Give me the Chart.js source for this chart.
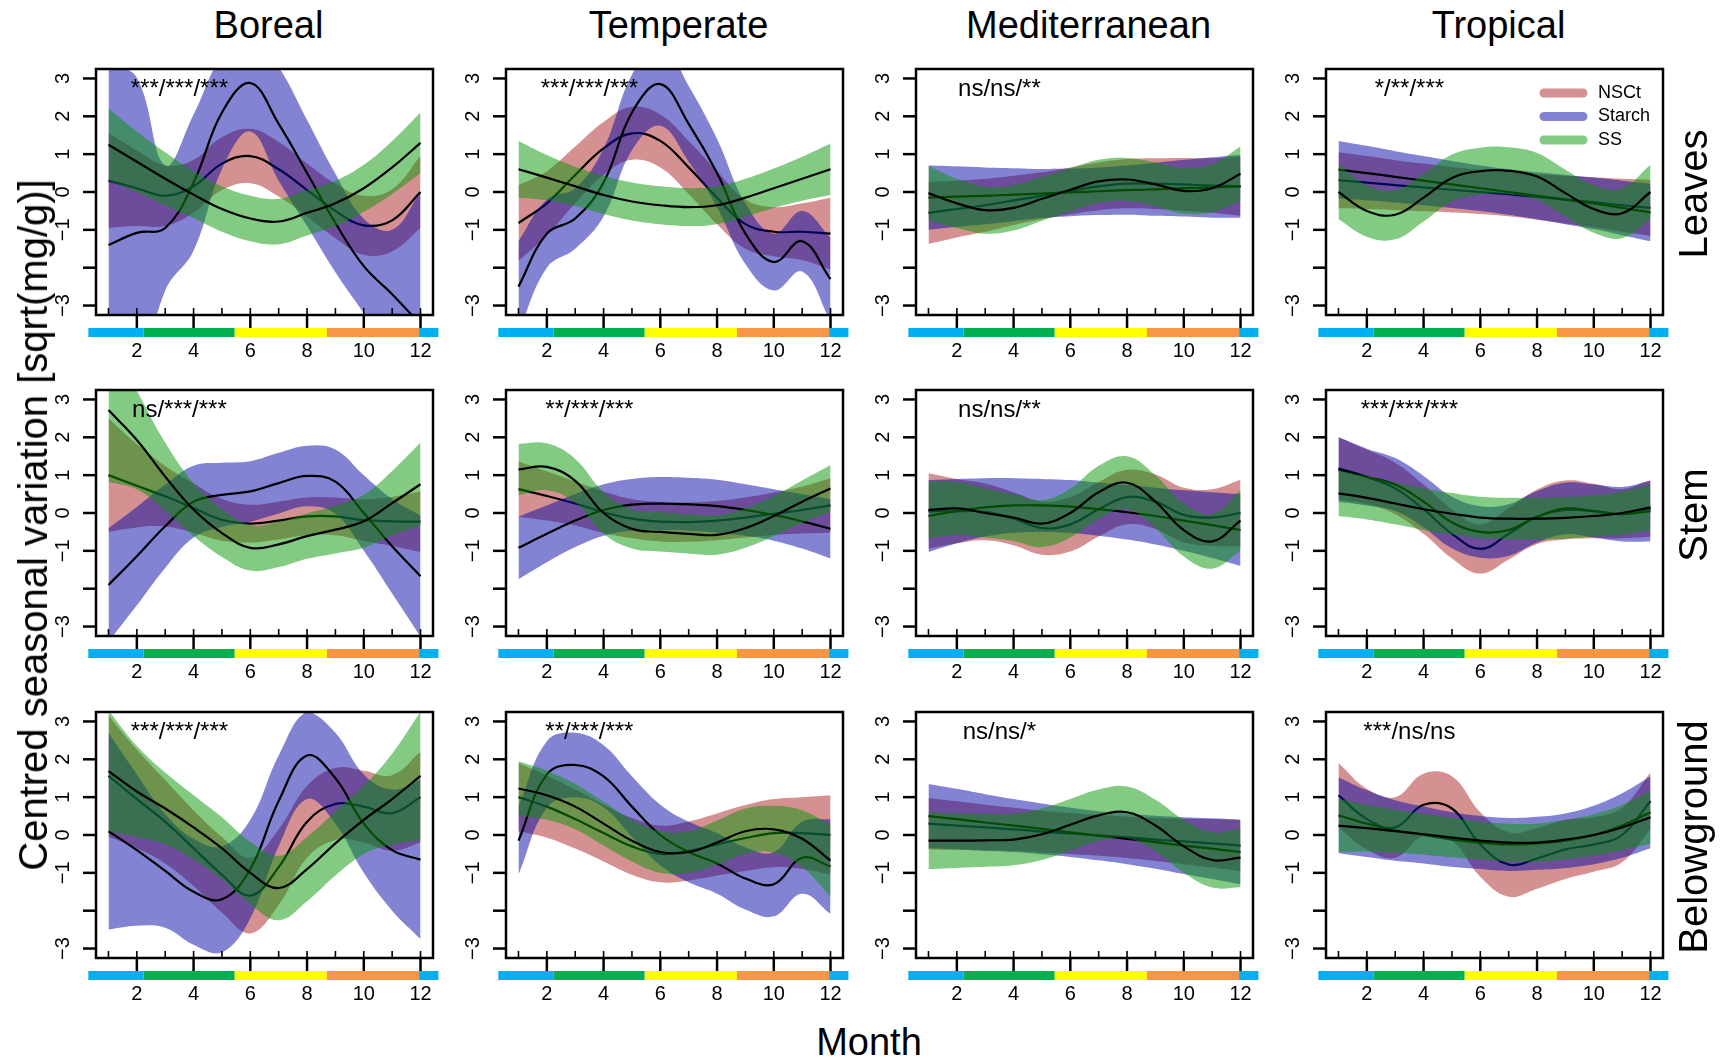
<!DOCTYPE html>
<html><head><meta charset="utf-8">
<script src="https://cdn.jsdelivr.net/npm/chart.js@4.4.1/dist/chart.umd.min.js"></script>
<style>
body{margin:0;background:#fff;width:1724px;height:1064px;position:relative;overflow:hidden;font-family:"Liberation Sans",Arial,Helvetica,sans-serif;}
canvas{position:absolute;}
.t{position:absolute;color:#000;white-space:nowrap;font-size:38px;line-height:1;transform:translate(-50%,-50%);}
.r{transform:translate(-50%,-50%) rotate(-90deg);}
.big{font-size:40px;}
</style></head><body>
<script>
// ---------------- data ----------------
const months = [1,2,3,4,5,6,7,8,9,10,11,12];
const biomes = ['Boreal','Temperate','Mediterranean','Tropical'];
const organs = ['Leaves','Stem','Belowground'];
const seriesNames = ['NSCt','Starch','SS'];
const yTickValues = [-3,-2,-1,0,1,2,3];
const yTickLabels = ['\u22123','','\u22121','0','1','2','3'];
const xTickValues = [2,4,6,8,10,12];
const xTickLabels = ['2','4','6','8','10','12'];
const seasonBreaks = [0.29, 2.24, 5.45, 8.70, 11.95, 12.63];
const seasonColors = ['#00B0F0','#00B050','#FFFF00','#F79646','#00B0F0'];
const sigLeaves = ['***/***/***','***/***/***','ns/ns/**','*/**/***'];
const sigStem = ['ns/***/***','**/***/***','ns/ns/**','***/***/***'];
const sigBelow = ['***/***/***','**/***/***','ns/ns/*','***/ns/ns'];

// mean curves and half-width of the confidence band (sqrt(mg/g))
const boreal_leaves_nsct_mean   = [0.3, 0.1, -0.1, 0.15, 0.75, 0.95, 0.6, 0.05, -0.5, -0.88, -0.75, 0.0];
const boreal_leaves_nsct_ci     = [1.25, 1.0, 0.8, 0.7, 0.7, 0.72, 0.72, 0.7, 0.72, 0.78, 0.82, 0.95];
const boreal_leaves_starch_mean = [-1.4, -1.08, -0.95, 0.25, 2.1, 2.88, 1.8, 0.5, -0.82, -1.96, -2.7, -3.5];
const boreal_leaves_starch_ci   = [4.8, 4.1, 1.65, 1.8, 1.5, 1.28, 1.5, 1.4, 1.3, 1.25, 1.7, 3.5];
const boreal_leaves_ss_mean     = [1.25, 0.8, 0.35, -0.07, -0.45, -0.7, -0.78, -0.55, -0.3, 0.1, 0.65, 1.3];
const boreal_leaves_ss_ci       = [0.95, 0.8, 0.7, 0.62, 0.6, 0.6, 0.6, 0.6, 0.6, 0.62, 0.7, 0.8];

const temperate_leaves_nsct_mean   = [-0.82, -0.3, 0.45, 1.15, 1.55, 1.35, 0.65, -0.15, -0.85, -1.05, -1.05, -1.1];
const temperate_leaves_nsct_ci     = [1.0, 0.85, 0.75, 0.7, 0.7, 0.7, 0.7, 0.7, 0.65, 0.65, 0.75, 0.95];
const temperate_leaves_starch_mean = [-2.5, -1.1, -0.7, 0.25, 2.1, 2.85, 1.8, 0.5, -1.1, -1.85, -1.3, -2.3];
const temperate_leaves_starch_ci   = [1.2, 0.9, 0.8, 0.9, 1.0, 1.1, 1.0, 0.9, 0.8, 0.75, 0.8, 1.1];
const temperate_leaves_ss_mean     = [0.6, 0.38, 0.15, -0.08, -0.25, -0.35, -0.4, -0.35, -0.15, 0.1, 0.35, 0.6];
const temperate_leaves_ss_ci       = [0.75, 0.6, 0.52, 0.5, 0.5, 0.5, 0.5, 0.5, 0.5, 0.52, 0.58, 0.68];

const mediterranean_leaves_nsct_mean   = [-0.55, -0.45, -0.35, -0.22, -0.1, 0.03, 0.15, 0.22, 0.22, 0.2, 0.17, 0.15];
const mediterranean_leaves_nsct_ci     = [0.82, 0.75, 0.7, 0.65, 0.62, 0.62, 0.63, 0.65, 0.67, 0.7, 0.72, 0.78];
const mediterranean_leaves_starch_mean = [-0.15, -0.12, -0.1, -0.07, -0.04, -0.01, 0.02, 0.05, 0.07, 0.1, 0.12, 0.15];
const mediterranean_leaves_starch_ci   = [0.85, 0.8, 0.75, 0.7, 0.65, 0.63, 0.63, 0.65, 0.7, 0.75, 0.8, 0.83];
const mediterranean_leaves_ss_mean     = [-0.03, -0.3, -0.48, -0.42, -0.18, 0.06, 0.28, 0.33, 0.2, 0.03, 0.1, 0.48];
const mediterranean_leaves_ss_ci       = [0.72, 0.65, 0.62, 0.6, 0.58, 0.57, 0.57, 0.57, 0.58, 0.6, 0.63, 0.72];

const tropical_leaves_nsct_mean   = [0.31, 0.25, 0.18, 0.12, 0.06, 0.0, -0.06, -0.13, -0.2, -0.27, -0.35, -0.42];
const tropical_leaves_nsct_ci     = [0.74, 0.7, 0.66, 0.63, 0.6, 0.58, 0.58, 0.6, 0.63, 0.66, 0.7, 0.74];
const tropical_leaves_starch_mean = [0.59, 0.5, 0.4, 0.3, 0.2, 0.1, 0.0, -0.1, -0.2, -0.3, -0.42, -0.54];
const tropical_leaves_starch_ci   = [0.76, 0.72, 0.68, 0.65, 0.62, 0.6, 0.6, 0.62, 0.65, 0.68, 0.72, 0.76];
const tropical_leaves_ss_mean     = [0.0, -0.5, -0.6, -0.15, 0.37, 0.55, 0.56, 0.41, -0.03, -0.45, -0.56, 0.0];
const tropical_leaves_ss_ci       = [0.72, 0.68, 0.65, 0.63, 0.62, 0.62, 0.62, 0.62, 0.62, 0.63, 0.66, 0.72];

const boreal_stem_nsct_mean   = [1.0, 0.72, 0.44, 0.13, -0.18, -0.28, -0.2, -0.09, -0.09, -0.19, -0.22, -0.23];
const boreal_stem_nsct_ci     = [1.5, 1.1, 0.8, 0.65, 0.55, 0.5, 0.5, 0.5, 0.5, 0.55, 0.65, 0.8];
const boreal_stem_starch_mean = [-1.9, -1.14, -0.35, 0.3, 0.48, 0.57, 0.79, 0.98, 0.83, 0.0, -0.88, -1.67];
const boreal_stem_starch_ci   = [1.5, 1.3, 1.1, 0.95, 0.85, 0.8, 0.8, 0.8, 0.85, 1.0, 1.25, 1.6];
const boreal_stem_ss_mean     = [2.72, 1.93, 0.96, 0.09, -0.53, -0.92, -0.83, -0.61, -0.44, -0.22, 0.26, 0.76];
const boreal_stem_ss_ci       = [1.9, 1.3, 0.9, 0.7, 0.63, 0.6, 0.6, 0.6, 0.63, 0.7, 0.85, 1.1];

const temperate_stem_nsct_mean   = [0.63, 0.45, 0.25, 0.02, -0.15, -0.23, -0.24, -0.2, -0.12, -0.02, 0.08, 0.2];
const temperate_stem_nsct_ci     = [0.73, 0.65, 0.58, 0.55, 0.52, 0.52, 0.52, 0.52, 0.53, 0.56, 0.62, 0.72];
const temperate_stem_starch_mean = [-0.92, -0.55, -0.2, 0.08, 0.22, 0.25, 0.23, 0.18, 0.08, -0.05, -0.22, -0.42];
const temperate_stem_starch_ci   = [0.83, 0.75, 0.7, 0.68, 0.68, 0.7, 0.7, 0.7, 0.68, 0.68, 0.72, 0.78];
const temperate_stem_ss_mean     = [1.15, 1.22, 0.85, 0.0, -0.42, -0.5, -0.55, -0.58, -0.4, -0.08, 0.3, 0.65];
const temperate_stem_ss_ci       = [0.68, 0.62, 0.58, 0.55, 0.52, 0.52, 0.52, 0.52, 0.52, 0.53, 0.56, 0.62];

const mediterranean_stem_nsct_mean   = [0.05, 0.05, 0.03, -0.15, -0.4, -0.3, 0.1, 0.42, 0.3, -0.05, -0.12, 0.0];
const mediterranean_stem_nsct_ci     = [1.0, 0.85, 0.75, 0.7, 0.7, 0.72, 0.72, 0.72, 0.72, 0.72, 0.75, 0.88];
const mediterranean_stem_starch_mean = [-0.08, 0.05, 0.15, 0.2, 0.2, 0.17, 0.1, 0.02, -0.08, -0.2, -0.32, -0.45];
const mediterranean_stem_starch_ci   = [0.95, 0.85, 0.77, 0.72, 0.7, 0.7, 0.7, 0.72, 0.75, 0.8, 0.87, 0.95];
const mediterranean_stem_ss_mean     = [0.08, 0.12, 0.0, -0.12, -0.28, 0.0, 0.55, 0.8, 0.3, -0.45, -0.75, -0.2];
const mediterranean_stem_ss_ci       = [0.75, 0.7, 0.65, 0.62, 0.62, 0.65, 0.7, 0.7, 0.7, 0.7, 0.72, 0.8];

const tropical_stem_nsct_mean   = [1.18, 0.95, 0.65, 0.1, -0.55, -0.95, -0.55, -0.1, 0.08, 0.05, -0.02, 0.12];
const tropical_stem_nsct_ci     = [0.82, 0.72, 0.68, 0.65, 0.65, 0.65, 0.68, 0.72, 0.78, 0.72, 0.65, 0.75];
const tropical_stem_starch_mean = [1.15, 0.95, 0.75, 0.3, -0.25, -0.5, -0.45, -0.1, 0.12, 0.05, -0.03, 0.05];
const tropical_stem_starch_ci   = [0.85, 0.75, 0.7, 0.68, 0.68, 0.68, 0.68, 0.68, 0.68, 0.7, 0.72, 0.8];
const tropical_stem_ss_mean     = [0.52, 0.4, 0.25, 0.1, -0.02, -0.12, -0.15, -0.15, -0.13, -0.08, 0.0, 0.15];
const tropical_stem_ss_ci       = [0.6, 0.57, 0.55, 0.55, 0.55, 0.55, 0.55, 0.55, 0.55, 0.55, 0.57, 0.6];

const boreal_below_nsct_mean   = [1.56, 0.95, 0.35, -0.35, -1.05, -1.6, -0.85, 0.35, 0.82, 0.75, 0.58, 1.0];
const boreal_below_nsct_ci     = [1.6, 1.3, 1.1, 1.0, 1.0, 1.0, 1.0, 0.95, 0.95, 0.95, 1.0, 1.2];
const boreal_below_starch_mean = [0.1, -0.4, -0.95, -1.5, -1.7, -0.9, 0.9, 2.1, 1.5, 0.3, -0.4, -0.65];
const boreal_below_starch_ci   = [2.6, 2.0, 1.5, 1.4, 1.4, 1.3, 1.2, 1.15, 1.2, 1.3, 1.6, 2.1];
const boreal_below_ss_mean     = [1.69, 1.15, 0.7, 0.2, -0.35, -1.0, -1.4, -0.9, -0.22, 0.4, 0.95, 1.56];
const boreal_below_ss_ci       = [1.6, 1.2, 0.95, 0.85, 0.82, 0.82, 0.85, 0.85, 0.85, 0.9, 1.2, 1.7];

const temperate_below_nsct_mean   = [1.0, 0.75, 0.42, 0.05, -0.3, -0.5, -0.42, -0.25, -0.08, 0.05, 0.05, 0.0];
const temperate_below_nsct_ci     = [0.9, 0.82, 0.78, 0.75, 0.75, 0.75, 0.78, 0.82, 0.87, 0.9, 0.95, 1.05];
const temperate_below_starch_mean = [-0.15, 1.6, 1.85, 1.55, 0.75, 0.0, -0.45, -0.75, -1.15, -1.3, -0.6, -0.83];
const temperate_below_starch_ci   = [0.9, 0.88, 0.85, 0.82, 0.8, 0.8, 0.8, 0.8, 0.82, 0.85, 0.95, 1.25];
const temperate_below_ss_mean     = [1.23, 1.05, 0.75, 0.3, -0.15, -0.45, -0.45, -0.2, 0.1, 0.15, -0.1, -0.68];
const temperate_below_ss_ci       = [0.72, 0.65, 0.6, 0.58, 0.55, 0.55, 0.55, 0.58, 0.6, 0.62, 0.75, 0.95];

const mediterranean_below_nsct_mean   = [0.3, 0.25, 0.2, 0.15, 0.09, 0.04, -0.01, -0.06, -0.12, -0.17, -0.22, -0.28];
const mediterranean_below_nsct_ci     = [0.68, 0.64, 0.6, 0.57, 0.55, 0.54, 0.54, 0.55, 0.57, 0.6, 0.64, 0.68];
const mediterranean_below_starch_mean = [0.5, 0.42, 0.33, 0.25, 0.16, 0.07, -0.02, -0.1, -0.19, -0.28, -0.36, -0.45];
const mediterranean_below_starch_ci   = [0.85, 0.8, 0.75, 0.7, 0.67, 0.65, 0.65, 0.67, 0.7, 0.75, 0.8, 0.85];
const mediterranean_below_ss_mean     = [-0.15, -0.15, -0.14, -0.12, 0.02, 0.27, 0.52, 0.6, 0.25, -0.3, -0.66, -0.6];
const mediterranean_below_ss_ci       = [0.75, 0.72, 0.7, 0.68, 0.68, 0.68, 0.68, 0.68, 0.68, 0.7, 0.73, 0.78];

const tropical_below_nsct_mean   = [1.05, 0.42, 0.2, 0.8, 0.7, -0.25, -0.78, -0.62, -0.38, -0.25, 0.0, 0.9];
const tropical_below_nsct_ci     = [0.85, 0.8, 0.8, 0.82, 0.85, 0.85, 0.85, 0.8, 0.78, 0.72, 0.72, 0.75];
const tropical_below_starch_mean = [0.52, 0.3, 0.12, 0.0, -0.12, -0.2, -0.25, -0.22, -0.15, 0.0, 0.25, 0.6];
const tropical_below_starch_ci   = [1.0, 0.88, 0.8, 0.75, 0.72, 0.7, 0.7, 0.7, 0.72, 0.77, 0.85, 0.95];
const tropical_below_ss_mean     = [0.25, 0.18, 0.1, 0.02, -0.07, -0.15, -0.2, -0.2, -0.12, 0.0, 0.2, 0.47];
const tropical_below_ss_ci       = [0.7, 0.62, 0.57, 0.54, 0.52, 0.5, 0.5, 0.5, 0.52, 0.55, 0.6, 0.7];

// ---------------- panel table built from the arrays ----------------
const panelTable = [
  [ // Leaves
    [[boreal_leaves_nsct_mean,boreal_leaves_nsct_ci],[boreal_leaves_starch_mean,boreal_leaves_starch_ci],[boreal_leaves_ss_mean,boreal_leaves_ss_ci]],
    [[temperate_leaves_nsct_mean,temperate_leaves_nsct_ci],[temperate_leaves_starch_mean,temperate_leaves_starch_ci],[temperate_leaves_ss_mean,temperate_leaves_ss_ci]],
    [[mediterranean_leaves_nsct_mean,mediterranean_leaves_nsct_ci],[mediterranean_leaves_starch_mean,mediterranean_leaves_starch_ci],[mediterranean_leaves_ss_mean,mediterranean_leaves_ss_ci]],
    [[tropical_leaves_nsct_mean,tropical_leaves_nsct_ci],[tropical_leaves_starch_mean,tropical_leaves_starch_ci],[tropical_leaves_ss_mean,tropical_leaves_ss_ci]]
  ],
  [ // Stem
    [[boreal_stem_nsct_mean,boreal_stem_nsct_ci],[boreal_stem_starch_mean,boreal_stem_starch_ci],[boreal_stem_ss_mean,boreal_stem_ss_ci]],
    [[temperate_stem_nsct_mean,temperate_stem_nsct_ci],[temperate_stem_starch_mean,temperate_stem_starch_ci],[temperate_stem_ss_mean,temperate_stem_ss_ci]],
    [[mediterranean_stem_nsct_mean,mediterranean_stem_nsct_ci],[mediterranean_stem_starch_mean,mediterranean_stem_starch_ci],[mediterranean_stem_ss_mean,mediterranean_stem_ss_ci]],
    [[tropical_stem_nsct_mean,tropical_stem_nsct_ci],[tropical_stem_starch_mean,tropical_stem_starch_ci],[tropical_stem_ss_mean,tropical_stem_ss_ci]]
  ],
  [ // Belowground
    [[boreal_below_nsct_mean,boreal_below_nsct_ci],[boreal_below_starch_mean,boreal_below_starch_ci],[boreal_below_ss_mean,boreal_below_ss_ci]],
    [[temperate_below_nsct_mean,temperate_below_nsct_ci],[temperate_below_starch_mean,temperate_below_starch_ci],[temperate_below_ss_mean,temperate_below_ss_ci]],
    [[mediterranean_below_nsct_mean,mediterranean_below_nsct_ci],[mediterranean_below_starch_mean,mediterranean_below_starch_ci],[mediterranean_below_ss_mean,mediterranean_below_ss_ci]],
    [[tropical_below_nsct_mean,tropical_below_nsct_ci],[tropical_below_starch_mean,tropical_below_starch_ci],[tropical_below_ss_mean,tropical_below_ss_ci]]
  ]
];
const sigTable = [sigLeaves, sigStem, sigBelow];

// ---------------- styles / layout ----------------
const bandColors = ['rgba(172,36,36,0.5)','rgba(8,8,168,0.5)','rgba(8,150,8,0.5)'];
const boxLeft = [96, 506, 916, 1326];
const boxTop = [69, 390, 712];
const boxW = 337, boxH = 246;
const padL = 70, padT = 15, padR = 25, padB = 55;
const FONT = '"Liberation Sans", Arial, Helvetica, sans-serif';

const rPlot = {
  id: 'rPlot',
  afterDatasetsDraw(chart, args, opts) {
    const ctx = chart.ctx, a = chart.chartArea, x = chart.scales.x, y = chart.scales.y;
    ctx.save();
    ctx.strokeStyle = '#000'; ctx.fillStyle = '#000';
    // box
    ctx.lineWidth = 2.5;
    ctx.strokeRect(a.left, a.top, a.right - a.left, a.bottom - a.top);
    // y axis ticks + rotated labels
    ctx.font = '20px ' + FONT;
    yTickValues.forEach((v, i) => {
      const py = y.getPixelForValue(v);
      ctx.lineWidth = 2.5;
      ctx.beginPath(); ctx.moveTo(a.left - 13, py); ctx.lineTo(a.left, py); ctx.stroke();
      const lab = yTickLabels[i];
      if (lab) {
        ctx.save(); ctx.translate(a.left - 33, py); ctx.rotate(-Math.PI / 2);
        ctx.textAlign = 'center'; ctx.textBaseline = 'middle';
        ctx.fillText(lab, 0, 0); ctx.restore();
      }
    });
    // x axis: small inward ticks every month, long outward ticks at labelled months
    ctx.lineWidth = 1.6;
    months.forEach(m => {
      const px = x.getPixelForValue(m);
      ctx.beginPath(); ctx.moveTo(px, a.bottom - 7); ctx.lineTo(px, a.bottom); ctx.stroke();
    });
    ctx.lineWidth = 2.5;
    ctx.textAlign = 'center'; ctx.textBaseline = 'middle';
    xTickValues.forEach((m, i) => {
      const px = x.getPixelForValue(m);
      ctx.beginPath(); ctx.moveTo(px, a.bottom); ctx.lineTo(px, a.bottom + 13); ctx.stroke();
      ctx.fillText(xTickLabels[i], px, a.bottom + 36);
    });
    // season colour bar
    for (let s = 0; s < seasonColors.length; s++) {
      const x0 = x.getPixelForValue(seasonBreaks[s]), x1 = x.getPixelForValue(seasonBreaks[s + 1]);
      ctx.fillStyle = seasonColors[s];
      ctx.fillRect(x0, a.bottom + 13, x1 - x0, 9);
    }
    // significance text
    ctx.fillStyle = '#000';
    ctx.font = '24px ' + FONT;
    ctx.textAlign = 'center'; ctx.textBaseline = 'middle';
    ctx.fillText(opts.sig, x.getPixelForValue(3.5), y.getPixelForValue(2.72));
    // legend
    if (opts.legend) {
      ctx.font = '18px ' + FONT; ctx.textAlign = 'left';
      seriesNames.forEach((nm, k) => {
        const ly = a.top + 24 + k * 23.5;
        ctx.strokeStyle = bandColors[k]; ctx.lineWidth = 9; ctx.lineCap = 'round';
        ctx.beginPath(); ctx.moveTo(a.left + 218, ly); ctx.lineTo(a.left + 257, ly); ctx.stroke();
        ctx.fillStyle = '#000';
        ctx.fillText(nm, a.left + 272, ly);
      });
    }
    ctx.restore();
  }
};

function addText(txt, x, y, rot, big) {
  const d = document.createElement('div');
  d.className = 't' + (rot ? ' r' : '') + (big ? ' big' : '');
  d.textContent = txt;
  d.style.left = x + 'px'; d.style.top = y + 'px';
  document.body.appendChild(d);
}

organs.forEach((organ, r) => {
  biomes.forEach((biome, c) => {
    const cv = document.createElement('canvas');
    const W = padL + boxW + padR, H = padT + boxH + padB;
    cv.width = W; cv.height = H;
    cv.style.left = (boxLeft[c] - padL) + 'px';
    cv.style.top = (boxTop[r] - padT) + 'px';
    cv.style.width = W + 'px'; cv.style.height = H + 'px';
    document.body.appendChild(cv);
    const datasets = [];
    let seq = 0;
    panelTable[r][c].forEach((pair, k) => {
      const mean = pair[0], ci = pair[1];
      const loIndex = datasets.length;
      datasets.push({ label: seriesNames[k] + ' lower', data: months.map((m, i) => ({x: m, y: mean[i] - ci[i]})),
        borderWidth: 0, borderColor: 'rgba(0,0,0,0)', fill: false, order: 50 - seq++ });
      datasets.push({ label: seriesNames[k] + ' upper', data: months.map((m, i) => ({x: m, y: mean[i] + ci[i]})),
        borderWidth: 0, borderColor: 'rgba(0,0,0,0)', backgroundColor: bandColors[k], fill: loIndex, order: 50 - seq++ });
      datasets.push({ label: seriesNames[k], data: months.map((m, i) => ({x: m, y: mean[i]})),
        borderWidth: 2.2, borderColor: '#000', fill: false, order: 50 - seq++ });
    });
    new Chart(cv, {
      type: 'line',
      data: { datasets },
      options: {
        responsive: false, animation: false, devicePixelRatio: 1, events: [],
        layout: { padding: { left: padL, top: padT, right: padR, bottom: padB } },
        elements: { point: { radius: 0 }, line: { tension: 0.4 } },
        scales: {
          x: { type: 'linear', min: 0.56, max: 12.44, display: false },
          y: { type: 'linear', min: -3.25, max: 3.25, display: false }
        },
        plugins: { legend: { display: false }, tooltip: { enabled: false },
          rPlot: { sig: sigTable[r][c], legend: (r === 0 && c === 3) } }
      },
      plugins: [rPlot]
    });
  });
});

biomes.forEach((b, c) => addText(b, boxLeft[c] + boxW / 2 + 4, 25));
organs.forEach((o, r) => addText(o, 1693, boxTop[r] + boxH / 2 + 2, true, true));
addText('Centred seasonal variation [sqrt(mg/g)]', 33, 525, true, true);
addText('Month', 869, 1042);
</script>
</body></html>
